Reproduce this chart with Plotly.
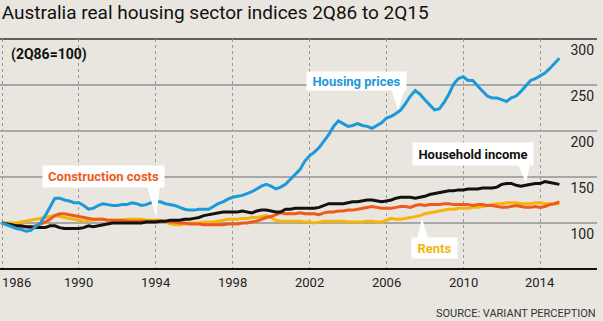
import plotly.graph_objects as go

# ---- data (quarterly, 2Q86 .. 2Q15; index 2Q86 = 100) ----
start_year = 1986.0
housing_prices = [
    100, 98, 96, 94, 93, 91, 92, 96, 100, 108, 118, 127, 127, 125, 124, 122,
    122, 119, 115, 116, 119, 121, 120, 119, 119, 120, 120, 122, 121, 119, 120, 122,
    123, 123, 121, 120, 119, 117, 115, 114, 114, 115, 115, 115, 118, 121, 123, 126,
    128, 129, 130, 132, 134, 137, 140, 142, 140, 137, 139, 142, 147, 153, 158, 167,
    173, 177, 182, 189, 196, 205, 211, 208, 205, 206, 208, 206, 205, 203, 206, 209,
    214, 216, 219, 223, 230, 238, 244, 240, 234, 228, 223, 224, 231, 240, 251, 257,
    259, 255, 255, 249, 244, 238, 236, 236, 234, 232, 236, 238, 243, 249, 255, 257,
    260, 263, 268, 274, 279]
household_income = [
    100, 99, 98, 97, 97, 96, 96, 95, 95, 95, 97, 97, 95, 94, 94, 94,
    94, 95, 97, 96, 97, 98, 99, 100, 100, 100, 100, 100, 100, 100, 101, 101,
    101, 102, 102, 103, 103, 103, 104, 104, 105, 106, 108, 109, 110, 111, 112, 112,
    112, 112, 113, 112, 111, 113, 114, 114, 113, 112, 112, 115, 115, 116, 116, 116,
    116, 116, 117, 119, 121, 121, 121, 121, 122, 123, 123, 124, 125, 125, 124, 123,
    124, 125, 127, 128, 128, 128, 127, 128, 129, 131, 132, 133, 134, 135, 135, 136,
    136, 137, 137, 137, 138, 138, 138, 139, 142, 143, 143, 141, 140, 141, 142, 143,
    143, 145, 144, 143, 142]
construction_costs = [
    100, 99, 98, 97, 96, 96, 95, 97, 99, 101, 104, 108, 110, 110, 109, 108,
    107, 106, 105, 104, 104, 104, 103, 103, 103, 103, 102, 102, 102, 102, 102, 102,
    102, 102, 102, 101, 101, 100, 100, 99, 99, 99, 98, 98, 98, 98, 98, 99,
    99, 99, 100, 100, 101, 102, 104, 106, 107, 109, 111, 110, 110, 110, 111, 110,
    110, 110, 109, 111, 112, 112, 113, 113, 114, 114, 115, 116, 117, 118, 117, 116,
    116, 116, 117, 118, 118, 117, 119, 120, 119, 120, 120, 120, 121, 121, 120, 120,
    120, 120, 119, 120, 120, 119, 119, 118, 117, 117, 118, 119, 118, 117, 117, 118,
    117, 118, 120, 121, 123]
rents = [
    100, 100, 100, 100, 101, 102, 103, 104, 105, 106, 107, 108, 107, 106, 105, 104,
    103, 102, 103, 103, 104, 104, 103, 103, 103, 103, 104, 104, 104, 104, 103, 103,
    103, 103, 101, 99, 98, 98, 99, 100, 100, 100, 101, 101, 101, 102, 103, 104,
    104, 104, 105, 105, 106, 106, 107, 108, 106, 103, 102, 102, 102, 102, 102, 101,
    101, 100, 101, 102, 102, 102, 102, 102, 101, 101, 101, 101, 102, 102, 101, 101,
    103, 105, 104, 104, 105, 106, 107, 108, 110, 111, 112, 113, 114, 115, 115, 116,
    116, 116, 117, 117, 118, 119, 120, 121, 121, 122, 122, 122, 121, 121, 121, 122,
    122, 121, 121, 121, 121]
year_ticks = [1986, 1990, 1994, 1998, 2002, 2006, 2010, 2014]
value_ticks = [100, 150, 200, 250, 300]

quarters = [start_year + 0.25 * i for i in range(len(housing_prices))]

# ---- layout geometry ----
W, H = 603, 321
ML, MR, MT, MB = 0, 6, 39, 52
PW, PH = W - ML - MR, H - MT - MB
PX_PER_YEAR = 19.22
XR = [1986 - 2 / PX_PER_YEAR, 1986 + (PW - 2) / PX_PER_YEAR]
YR = [50, 300]


def X(px):
    return XR[0] + (px - ML) / PW * (XR[1] - XR[0])


def Y(py):
    return YR[0] + (MT + PH - py) / PH * (YR[1] - YR[0])


FONT = "Roboto, 'Liberation Sans', sans-serif"
BG = "#e9e6e0"
BLUE = "#1a9ad8"
BLACK = "#111111"
ORANGE = "#ee5a1c"
YELLOW = "#f6b40a"

fig = go.Figure()
for name, vals, col in [("Rents", rents, YELLOW),
                        ("Construction costs", construction_costs, ORANGE),
                        ("Household income", household_income, BLACK),
                        ("Housing prices", housing_prices, BLUE)]:
    fig.add_trace(go.Scatter(x=quarters, y=vals, mode="lines", name=name,
                             line=dict(color=col, width=3), hoverinfo="x+y+name"))

shapes = [
    dict(type="line", xref="paper", yref="y", x0=0, x1=1, y0=100, y1=100,
         line=dict(color="#3c3c3c", width=1.5), layer="below"),
    dict(type="line", xref="paper", yref="paper", x0=0, x1=1, y0=1, y1=1,
         line=dict(color="#333333", width=1.6), layer="below"),
    dict(type="line", xref="paper", yref="paper", x0=0, x1=1, y0=0, y1=0,
         line=dict(color="#111111", width=2), layer="above"),
]


def wedge(pts):
    d = "M " + " L ".join(f"{X(a)},{Y(b)}" for a, b in pts) + " Z"
    return dict(type="path", xref="x", yref="y", path=d,
                fillcolor="white", line=dict(width=0), layer="above")


# pointers of label boxes
shapes += [
    wedge([(391, 89), (405, 89), (398, 110)]),
    wedge([(518, 164), (530, 164), (526, 183)]),
    wedge([(147, 186), (160, 186), (156, 218)]),
    wedge([(417, 239), (428, 239), (422, 218)]),
]

annotations = []


def label_box(text, color, x0, x1, y0, y1, size=13):
    annotations.append(dict(
        x=X((x0 + x1) / 2), y=Y((y0 + y1) / 2), xref="x", yref="y",
        text=f"<b>{text}</b>", showarrow=False, bgcolor="white",
        width=x1 - x0, height=y1 - y0, borderpad=0, align="center",
        font=dict(family=FONT, size=size, color=color)))


label_box("Housing prices", BLUE, 307, 406, 72, 90)
label_box("Household income", BLACK, 413, 533, 143, 165)
label_box("Construction costs", ORANGE, 43, 164, 166, 187)
label_box("Rents", YELLOW, 412, 457, 238, 258)

annotations.append(dict(x=X(9), y=Y(54), xref="x", yref="y", xanchor="left",
                        text="<b>(2Q86=100)</b>", showarrow=False,
                        font=dict(family=FONT, size=14, color="#111111")))

for i, yr in enumerate(year_ticks):
    annotations.append(dict(
        x=yr if i > 0 else XR[0], y=0, xref="x", yref="paper",
        xanchor="center" if i > 0 else "left", yanchor="middle", yshift=-13,
        text=str(yr), showarrow=False,
        font=dict(family=FONT, size=13, color="#222222")))

annotations.append(dict(x=1, y=0, xref="paper", yref="paper", xanchor="right",
                        yanchor="middle", yshift=-(313 - (MT + PH)), xshift=1,
                        text="SOURCE: VARIANT PERCEPTION", showarrow=False,
                        font=dict(family=FONT, size=11, color="#333333")))

fig.update_layout(
    width=W, height=H, margin=dict(l=ML, r=MR, t=MT, b=MB, pad=0),
    paper_bgcolor=BG, plot_bgcolor=BG, showlegend=False,
    title=dict(text="Australia real housing sector indices 2Q86 to 2Q15",
               x=0.003, xanchor="left", y=1 - 12 / H, yanchor="middle",
               xref="container", yref="container",
               font=dict(family=FONT, size=19, color="#111111")),
    xaxis=dict(range=XR, tickvals=year_ticks, showticklabels=False,
               showgrid=True, gridcolor="#9a9a9a", griddash="dot", gridwidth=1.3,
               zeroline=False, showline=False, ticks=""),
    yaxis=dict(range=YR, tickvals=value_ticks, side="right",
               ticklabelposition="inside", ticklabelshift=11,
               showgrid=True, gridcolor="#a8a8a8", gridwidth=1.5,
               zeroline=False, showline=False, ticks="",
               tickfont=dict(family=FONT, size=14, color="#222222")),
    shapes=shapes, annotations=annotations,
)

fig.write_html("out.html")
